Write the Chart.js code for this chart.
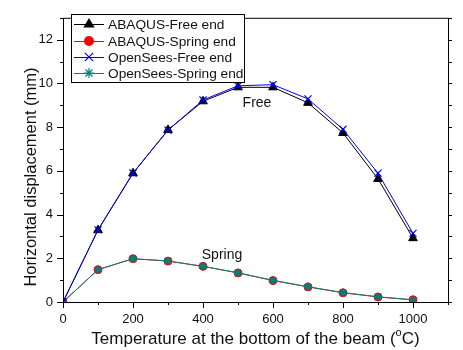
<!DOCTYPE html>
<html>
<head>
<meta charset="utf-8">
<script src="https://cdn.jsdelivr.net/npm/chart.js@4.4.1/dist/chart.umd.min.js"></script>
<style>
  html, body { margin: 0; padding: 0; background: #fff; }
</style>
</head>
<body>
<canvas id="disp-chart" width="463" height="350"></canvas>
<script>
// temperatures at bottom of beam (C)
const temps = [0, 100, 200, 300, 400, 500, 600, 700, 800, 900, 1000];
const abaqusFree = [0, 3.29, 5.89, 7.87, 9.18, 9.82, 9.82, 9.11, 7.73, 5.63, 2.92];
const abaqusSpring = [0, 1.48, 1.98, 1.87, 1.63, 1.33, 0.98, 0.69, 0.42, 0.23, 0.1];
const openseesFree = [0, 3.3, 5.9, 7.86, 9.24, 9.89, 9.94, 9.29, 7.9, 5.89, 3.14];
const openseesSpring = [0, 1.48, 1.98, 1.88, 1.63, 1.34, 0.99, 0.7, 0.43, 0.24, 0.1];
const seriesNames = ['ABAQUS-Free end', 'ABAQUS-Spring end', 'OpenSees-Free end', 'OpenSees-Spring end'];
const xTickLabels = [0, 200, 400, 600, 800, 1000];
const yTickLabels = [0, 2, 4, 6, 8, 10, 12];

const FONT = '"Liberation Sans", Arial, sans-serif';

function pts(ys) {
  return temps.map((t, i) => ({ x: t, y: ys[i] }));
}

function marker(ctx, style, x, y, r, color) {
  ctx.save();
  ctx.fillStyle = color;
  ctx.strokeStyle = color;
  ctx.lineWidth = 1.2;
  ctx.beginPath();
  if (style === 'triangle') {
    ctx.moveTo(x, y - r);
    ctx.lineTo(x + r * 0.95, y + r * 0.6);
    ctx.lineTo(x - r * 0.95, y + r * 0.6);
    ctx.closePath();
    ctx.fill();
  } else if (style === 'circle') {
    ctx.arc(x, y, r, 0, Math.PI * 2);
    ctx.fill();
  } else if (style === 'crossRot') {
    ctx.moveTo(x - r * 0.7, y - r * 0.7); ctx.lineTo(x + r * 0.7, y + r * 0.7);
    ctx.moveTo(x + r * 0.7, y - r * 0.7); ctx.lineTo(x - r * 0.7, y + r * 0.7);
    ctx.stroke();
  } else if (style === 'star') {
    ctx.moveTo(x - r, y); ctx.lineTo(x + r, y);
    ctx.moveTo(x, y - r); ctx.lineTo(x, y + r);
    ctx.moveTo(x - r * 0.7, y - r * 0.7); ctx.lineTo(x + r * 0.7, y + r * 0.7);
    ctx.moveTo(x + r * 0.7, y - r * 0.7); ctx.lineTo(x - r * 0.7, y + r * 0.7);
    ctx.stroke();
  }
  ctx.restore();
}

const framePlugin = {
  id: 'frame',
  afterDraw(chart) {
    const ctx = chart.ctx;
    const a = chart.chartArea;
    const xs = chart.scales.x, ys = chart.scales.y;
    ctx.save();
    ctx.strokeStyle = '#000';
    ctx.lineWidth = 1;
    ctx.strokeRect(a.left + 0.5, a.top + 0.5, a.right - a.left, a.bottom - a.top);

    // x ticks, bottom, outward
    ctx.beginPath();
    for (let v = 0; v <= 1100; v += 100) {
      const px = Math.round(xs.getPixelForValue(v)) + 0.5;
      const len = v % 200 === 0 ? 6 : 3;
      ctx.moveTo(px, a.bottom); ctx.lineTo(px, a.bottom + len);
    }
    // y ticks, left and right
    for (let v = 0; v <= 13; v += 1) {
      const py = Math.round(ys.getPixelForValue(v)) + 0.5;
      const len = v % 2 === 0 ? 6 : 3;
      ctx.moveTo(a.left, py); ctx.lineTo(a.left - len, py);
      ctx.moveTo(a.right, py); ctx.lineTo(a.right + 4, py);
    }
    ctx.stroke();

    // axis titles
    ctx.fillStyle = '#111';
    ctx.textBaseline = 'middle';
    const xt1 = 'Temperature at the bottom of the beam (';
    const xt2 = 'C)';
    ctx.font = '17px ' + FONT;
    const w1 = ctx.measureText(xt1).width;
    const w2 = ctx.measureText(xt2).width;
    ctx.font = '11px ' + FONT;
    const wo = ctx.measureText('o').width;
    const sx = (a.left + a.right) / 2 - (w1 + wo + w2) / 2;
    ctx.textAlign = 'left';
    ctx.font = '17px ' + FONT;
    ctx.fillText(xt1, sx, 339);
    ctx.font = '11px ' + FONT;
    ctx.fillText('o', sx + w1, 333);
    ctx.font = '17px ' + FONT;
    ctx.fillText(xt2, sx + w1 + wo, 339);

    ctx.save();
    ctx.translate(31, 177);
    ctx.rotate(-Math.PI / 2);
    ctx.textAlign = 'center';
    ctx.font = '16.5px ' + FONT;
    ctx.fillText('Horizontal displacement (mm)', 0, 0);
    ctx.restore();

    // curve labels
    ctx.font = '14px ' + FONT;
    ctx.textAlign = 'center';
    ctx.fillText('Free', 257, 103);
    ctx.fillText('Spring', 222, 255);

    // legend box
    const lx = 71, ly = 14, lw = 173, lh = 68;
    ctx.fillStyle = '#fff';
    ctx.fillRect(lx, ly, lw, lh);
    ctx.strokeStyle = '#000';
    ctx.strokeRect(lx + 0.5, ly + 0.5, lw, lh);
    const rows = [24, 41, 57, 73];
    chart.data.datasets.forEach((ds, i) => {
      const y = rows[i];
      ctx.strokeStyle = ds.borderColor;
      ctx.lineWidth = 1;
      ctx.beginPath();
      ctx.moveTo(74, y + 0.5); ctx.lineTo(104, y + 0.5);
      ctx.stroke();
      marker(ctx, ds.pointStyle, 89, y, ds.pointRadius + 1, ds.pointBackgroundColor);
      ctx.fillStyle = '#111';
      ctx.font = '13.7px ' + FONT;
      ctx.textAlign = 'left';
      ctx.fillText(ds.label, 108, y + 1);
    });
    ctx.restore();
  }
};

const dispChart = document.getElementById('disp-chart');
new Chart(dispChart, {
  type: 'line',
  data: {
    datasets: [{
      label: seriesNames[0],
      data: pts(abaqusFree),
      borderColor: '#000000',
      pointBackgroundColor: '#000000',
      pointBorderColor: '#000000',
      pointStyle: 'triangle',
      pointRadius: 5,
      borderWidth: 1,
      order: 3
    }, {
      label: seriesNames[1],
      data: pts(abaqusSpring),
      borderColor: '#ff0000',
      pointBackgroundColor: '#ff0000',
      pointBorderColor: '#ff0000',
      pointStyle: 'circle',
      pointRadius: 4,
      borderWidth: 1,
      order: 4
    }, {
      label: seriesNames[2],
      data: pts(openseesFree),
      borderColor: '#0000ff',
      pointBackgroundColor: '#0000ff',
      pointBorderColor: '#0000ff',
      pointStyle: 'crossRot',
      pointRadius: 5,
      pointBorderWidth: 1.2,
      borderWidth: 1,
      order: 1
    }, {
      label: seriesNames[3],
      data: pts(openseesSpring),
      borderColor: '#008080',
      pointBackgroundColor: '#008080',
      pointBorderColor: '#008080',
      pointStyle: 'star',
      pointRadius: 4,
      pointBorderWidth: 1.5,
      borderWidth: 1,
      order: 2
    }]
  },
  options: {
    responsive: false,
    animation: false,
    layout: { padding: { top: 14, left: 0, right: 0, bottom: 0 } },
    plugins: { legend: { display: false }, tooltip: { enabled: false } },
    scales: {
      x: {
        type: 'linear',
        min: 0,
        max: 1100,
        afterFit(s) { s.height = 48; },
        afterBuildTicks(s) { s.ticks = xTickLabels.map(v => ({ value: v })); },
        grid: { display: false, drawTicks: false },
        border: { display: false },
        ticks: { padding: 10, color: '#111', font: { family: FONT, size: 13 }, callback: v => String(v) }
      },
      y: {
        min: 0,
        max: 13,
        afterFit(s) { s.width = 63; },
        afterBuildTicks(s) { s.ticks = yTickLabels.map(v => ({ value: v })); },
        grid: { display: false, drawTicks: false },
        border: { display: false },
        ticks: { padding: 10, color: '#111', font: { family: FONT, size: 13 }, callback: v => String(v) }
      },
      y2: {
        position: 'right',
        min: 0,
        max: 13,
        afterFit(s) { s.width = 15; },
        grid: { display: false, drawTicks: false },
        border: { display: false },
        ticks: { display: false }
      }
    }
  },
  plugins: [framePlugin]
});
</script>
</body>
</html>
